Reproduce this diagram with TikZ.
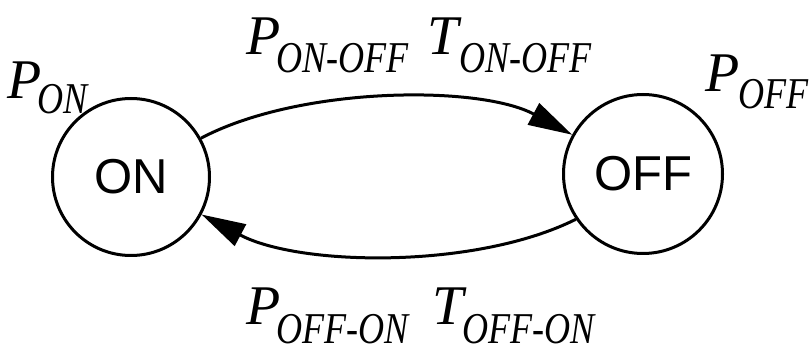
\documentclass[tikz,border=0pt]{standalone}
\usepackage{fontspec}
\setmainfont{Liberation Serif}
\newfontfamily\circfont{Liberation Sans}
\newfontfamily\subfamily{Liberation Serif}[FakeStretch=0.82]
\usetikzlibrary{arrows.meta}
\newcommand{\Pf}{\fontsize{56}{60}\selectfont\itshape}
\newcommand{\Sf}{\subfamily\fontsize{44}{48}\selectfont\itshape}
\newcommand{\Term}[4]{{\Pf #1}\kern#2pt\raisebox{-#3pt}{\Sf #4}}
\begin{document}
\begin{tikzpicture}[x=1pt,y=-1pt,
  state/.style={circle,draw,line width=3pt,minimum size=157pt,inner sep=0pt,
    font=\circfont\fontsize{49}{52}\selectfont},
  lab/.style={anchor=base west,inner sep=0pt},
  trans/.style={line width=3pt,-{Triangle[length=44pt,width=24pt]}}]
\useasboundingbox (0,0) rectangle (812,355);
\node[state] (on) at (131,177) {ON};
\node[state,minimum size=159pt] (off) at (643,174) {OFF};
\draw[trans] (on.29) .. controls +(98,-52) and +(-93,-50) .. (off.151);
\draw[trans] (off.214) .. controls +(-100,50) and +(98,52) .. (on.-28);
\node[lab] (pon) at (7,99) {\Term{P}{-4}{15}{ON}};
\node[lab] (poff) at (705,92) {\Term{P}{-1}{17}{OFF}};
\node[lab] (ponoff) at (246,55) {\Term{P}{-4}{18}{ON-OFF}};
\node[lab] (tonoff) at (427,55) {\Term{T}{1}{18}{ON-OFF}};
\node[lab] (poffon) at (246,325) {\Term{P}{-4}{19}{OFF-ON}};
\node[lab] (toffon) at (432,325) {\Term{T}{-1}{19}{OFF-ON}};
\end{tikzpicture}
\end{document}
